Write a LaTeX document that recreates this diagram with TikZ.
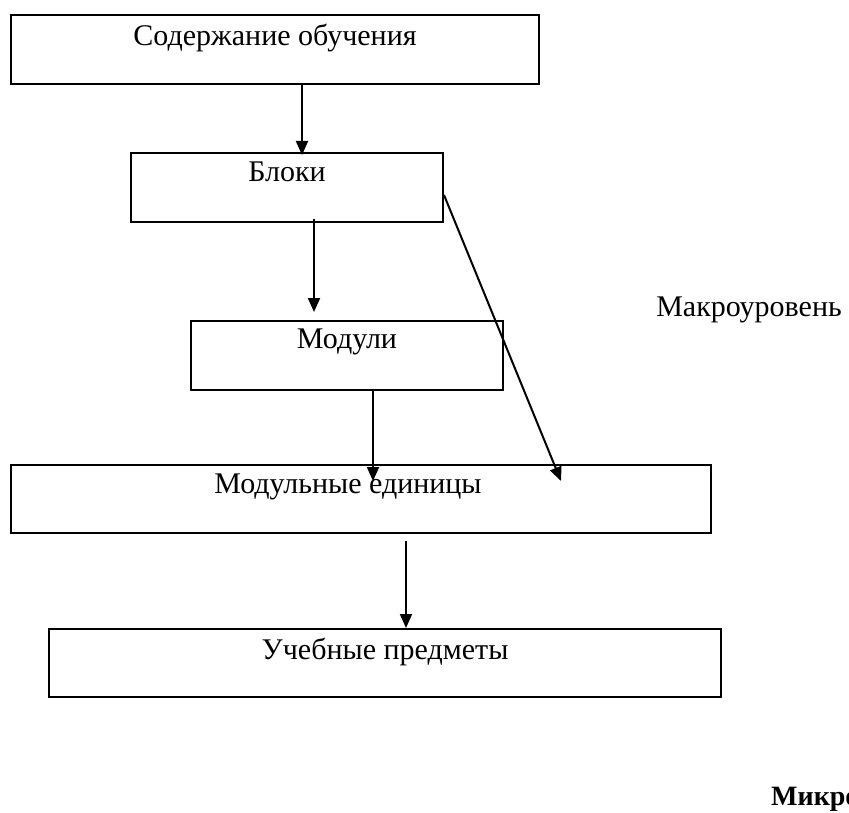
\documentclass[tikz,border=0pt]{standalone}
\usepackage{fontspec}
\setmainfont{Liberation Serif}
\usetikzlibrary{positioning,arrows.meta,calc}

\begin{document}
\begin{tikzpicture}[x=1pt,y=-1pt,
      box/.style={draw=black,line width=2pt,minimum height=69pt,inner sep=0pt},
      txt/.style={anchor=base,font=\fontsize{30}{34}\selectfont,inner sep=0pt},
      arrow/.style={-{Triangle[length=14pt,width=12pt]},line width=2pt}]
    \useasboundingbox (0,0) rectangle (849,813);
    \clip (0,0) rectangle (849,813);
    % boxes
    \node[box,minimum width=528pt] (cont) at (275,49.5) {};
    \node[box,minimum width=312pt] (bl) at (287,187.5) {};
    \node[box,minimum width=312pt] (mod) at (347,355.5) {};
    \node[box,minimum width=700pt,minimum height=68pt] (md) at (361,499) {};
    \node[box,minimum width=672pt,minimum height=68pt] (uch) at (385,663) {};
    % texts
    \node[txt] (contL) at ($(cont.north)+(0,32)$) {Содержание обучения};
    \node[txt] (blL) at ($(bl.north)+(0,30)$) {Блоки};
    \node[txt] (modL) at ($(mod.north)+(0,28)$) {Модули};
    \node[txt] (mdL) at ($(md.north)+(-13,29)$) {Модульные единицы};
    \node[txt] (uchL) at ($(uch.north)+(0,31)$) {Учебные предметы};
    \node[txt,anchor=center] (macro) at (749,310) {Макроуровень};
    \node[txt,anchor=base west,font=\fontsize{28}{32}\selectfont\bfseries] (micro) at (771,805) {Микроуровень};
    % arrows
    \draw[arrow] ($(cont.south)+(27,0)$) -- ($(cont.south |- bl.north)+(27,3)$);
    \draw[arrow] ($(bl.south)+(27,-4)$) -- ($(bl.south |- mod.north)+(27,-8)$);
    \draw[arrow] ($(mod.south)+(26,0)$) -- ($(mod.south |- md.north)+(26,17)$);
    \draw[arrow] ($(bl.east)+(0,7.5)$) -- ($(md.north)+(200,17)$);
    \draw[arrow] ($(md.south)+(45,7)$) -- ($(md.south |- uch.north)+(45,0)$);
\end{tikzpicture}
\end{document}
